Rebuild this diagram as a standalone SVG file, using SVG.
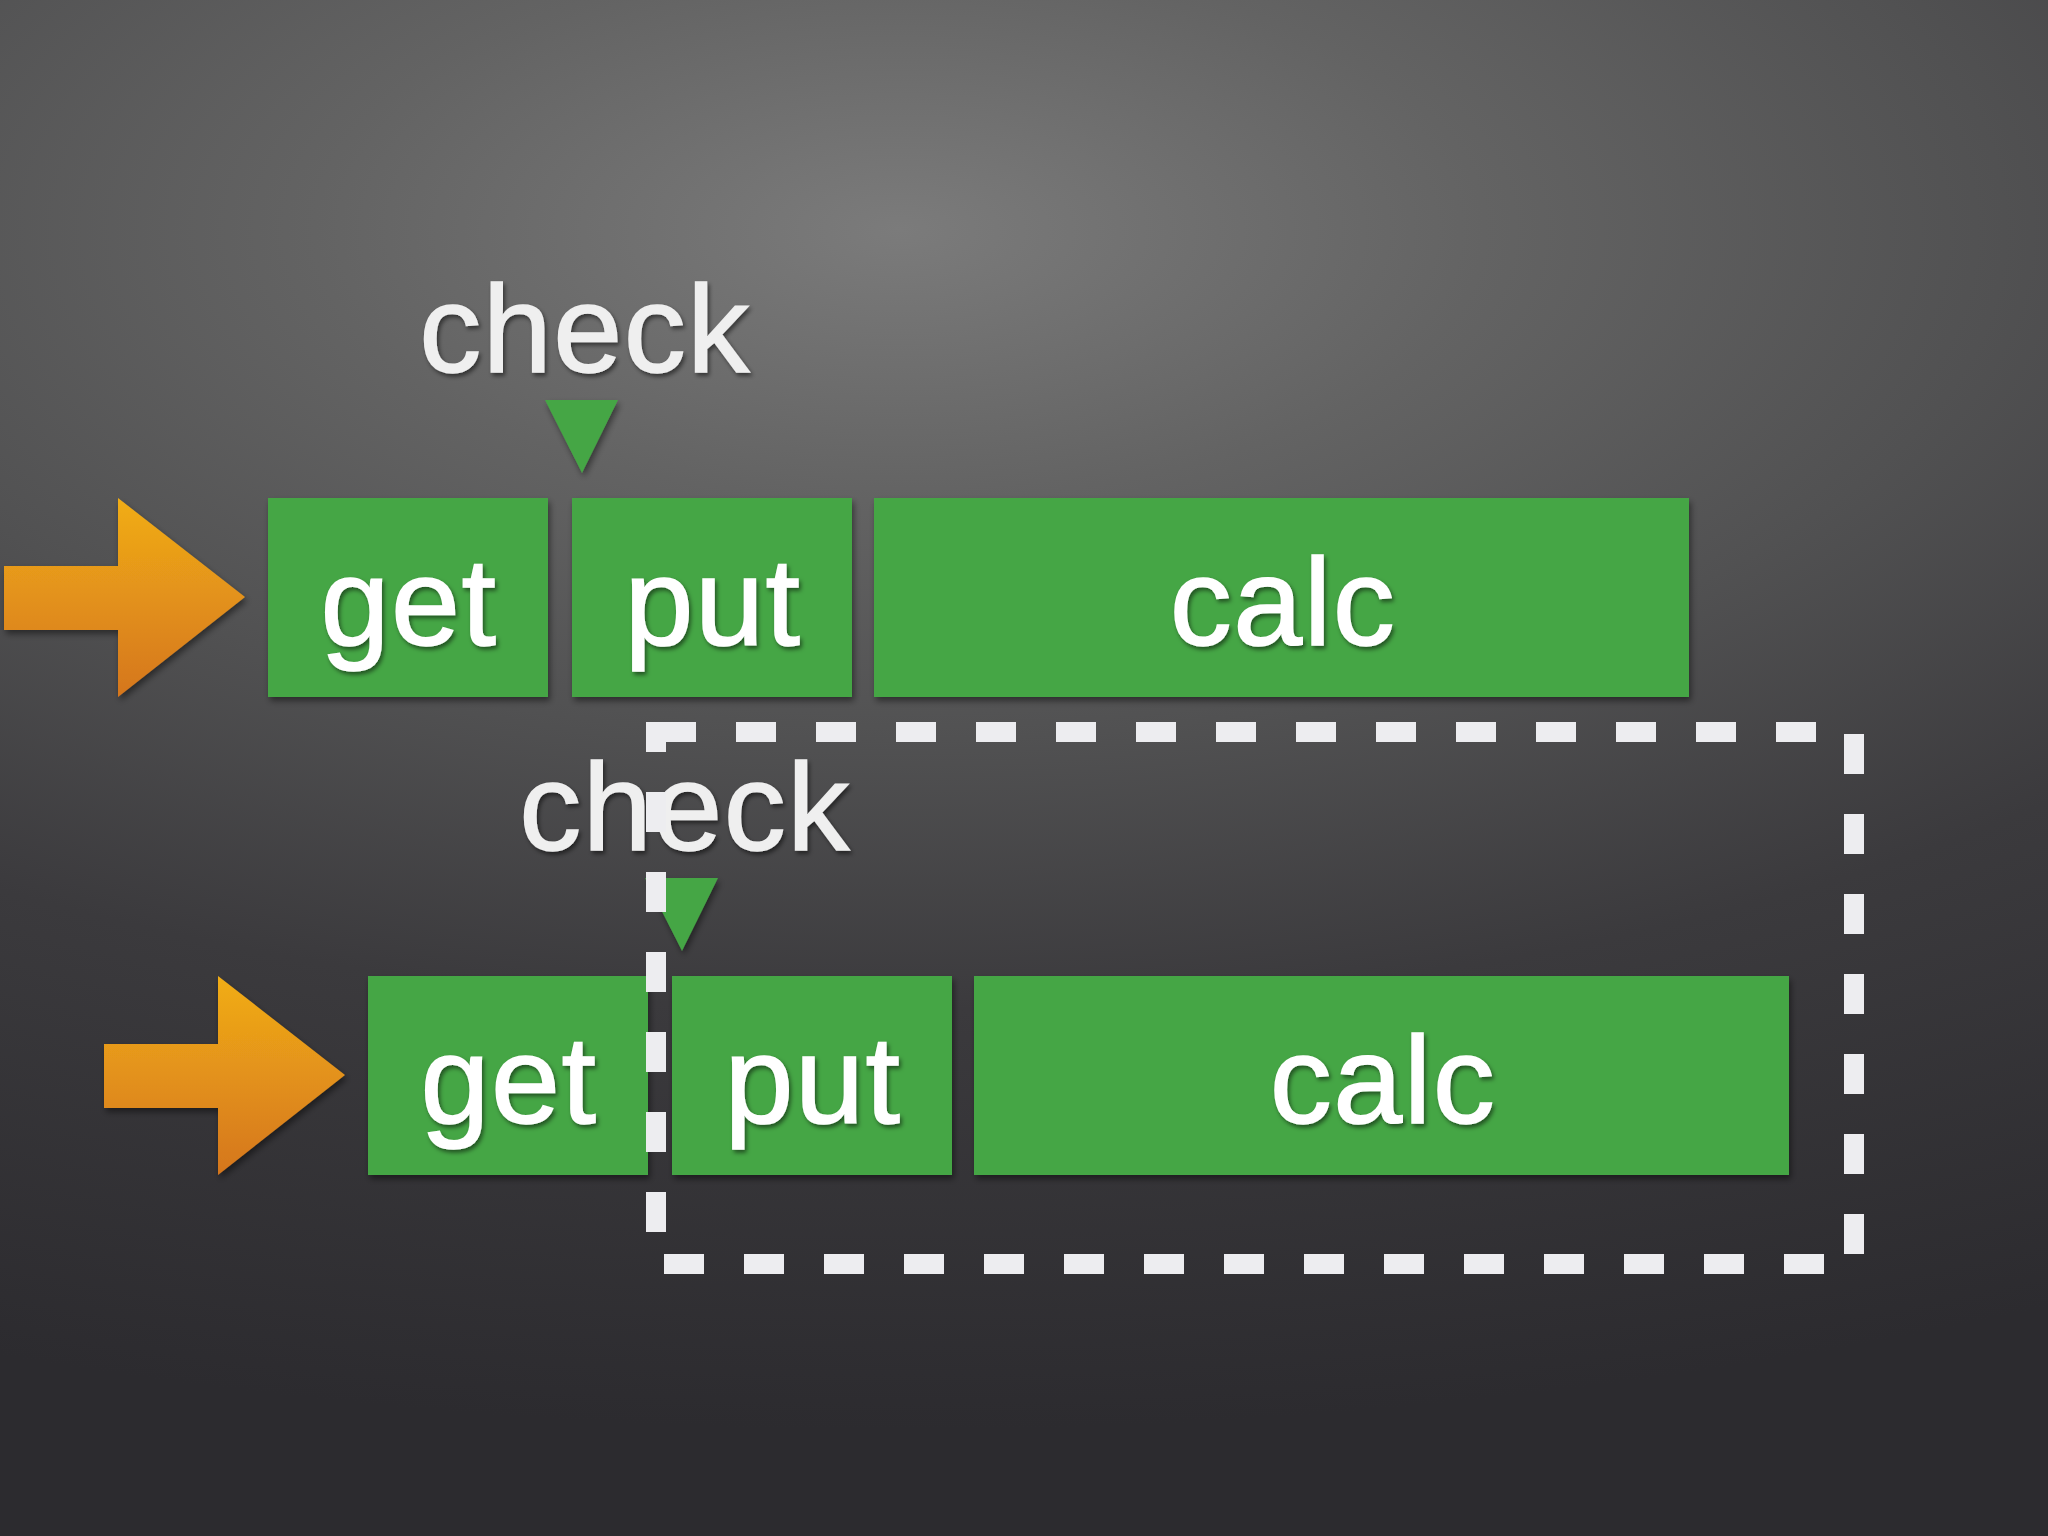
<svg xmlns="http://www.w3.org/2000/svg" width="2048" height="1536" viewBox="0 0 2048 1536">
<defs>
<radialGradient id="bg" gradientUnits="userSpaceOnUse" cx="900" cy="230" r="2600" gradientTransform="translate(900 230) scale(1 0.4615) translate(-900 -230)">
<stop offset="0" stop-color="#7b7b7b"/>
<stop offset="0.225" stop-color="#636363"/>
<stop offset="0.425" stop-color="#515152"/>
<stop offset="0.65" stop-color="#3b3a3d"/>
<stop offset="1" stop-color="#2c2b2f"/>
</radialGradient>
<linearGradient id="org" x1="0" y1="0" x2="0" y2="1">
<stop offset="0" stop-color="#f1ad17"/>
<stop offset="1" stop-color="#d5761e"/>
</linearGradient>
<filter id="sh" x="-10%" y="-10%" width="130%" height="130%">
<feDropShadow dx="2" dy="4" stdDeviation="3" flood-color="#000" flood-opacity="0.45"/>
</filter>
<filter id="tsh" x="-10%" y="-10%" width="130%" height="130%">
<feDropShadow dx="2" dy="3" stdDeviation="2" flood-color="#000" flood-opacity="0.5"/>
</filter>
</defs>
<style>
.box{fill:#45a645;filter:url(#sh)}
.tri{fill:#45a645;filter:url(#sh)}
.arrow{fill:url(#org);filter:url(#sh)}
.lbl{font-family:"Liberation Sans",Arial,sans-serif;font-size:124px;fill:#ffffff;stroke:#ffffff;stroke-width:1.5;letter-spacing:1.5px;text-anchor:middle;filter:url(#tsh)}
.chk{font-family:"Liberation Sans",Arial,sans-serif;font-size:124px;fill:#efefef;stroke:#efefef;stroke-width:1.5;letter-spacing:1.5px;text-anchor:middle;filter:url(#tsh)}
.dash{fill:none;stroke:#ededf0;stroke-width:20;stroke-dasharray:40 40}
.corner{fill:none;stroke:#ededf0;stroke-width:20;stroke-linejoin:miter}
</style>
<rect width="2048" height="1536" fill="url(#bg)"/>

<g id="row1">
<g id="arrow1"><polygon class="arrow" points="4,566 118,566 118,498 245,597 118,697 118,630 4,630"/></g>
<g id="check1"><text class="chk" x="585" y="372">check</text><polygon class="tri" points="545,400 618,400 582,473"/></g>
<g id="get1"><rect class="box" x="268" y="498" width="280" height="199"/><text class="lbl" x="409" y="645">get</text></g>
<g id="put1"><rect class="box" x="572" y="498" width="280" height="199"/><text class="lbl" x="713" y="645">put</text></g>
<g id="calc1"><rect class="box" x="874" y="498" width="815" height="199"/><text class="lbl" x="1283" y="645">calc</text></g>
</g>

<g id="row2">
<g id="arrow2"><polygon class="arrow" points="104,1044 218,1044 218,976 345,1075 218,1175 218,1108 104,1108"/></g>
<g id="check2"><text class="chk" x="685" y="850">check</text><polygon class="tri" points="645,878 718,878 682,951"/></g>
<g id="get2"><rect class="box" x="368" y="976" width="280" height="199"/><text class="lbl" x="509" y="1123">get</text></g>
<g id="put2"><rect class="box" x="672" y="976" width="280" height="199"/><text class="lbl" x="813" y="1123">put</text></g>
<g id="calc2"><rect class="box" x="974" y="976" width="815" height="199"/><text class="lbl" x="1383" y="1123">calc</text></g>
</g>

<g id="connectors">
<g id="dashed-frame">
<path class="corner" d="M656,752 V732 H696"/>
<line class="dash" x1="736" y1="732" x2="1816" y2="732"/>
<line class="dash" x1="1854" y1="734" x2="1854" y2="1254"/>
<line class="dash" x1="664" y1="1264" x2="1824" y2="1264"/>
<line class="dash" x1="656" y1="792" x2="656" y2="1232"/>
</g>
</g>
</svg>
